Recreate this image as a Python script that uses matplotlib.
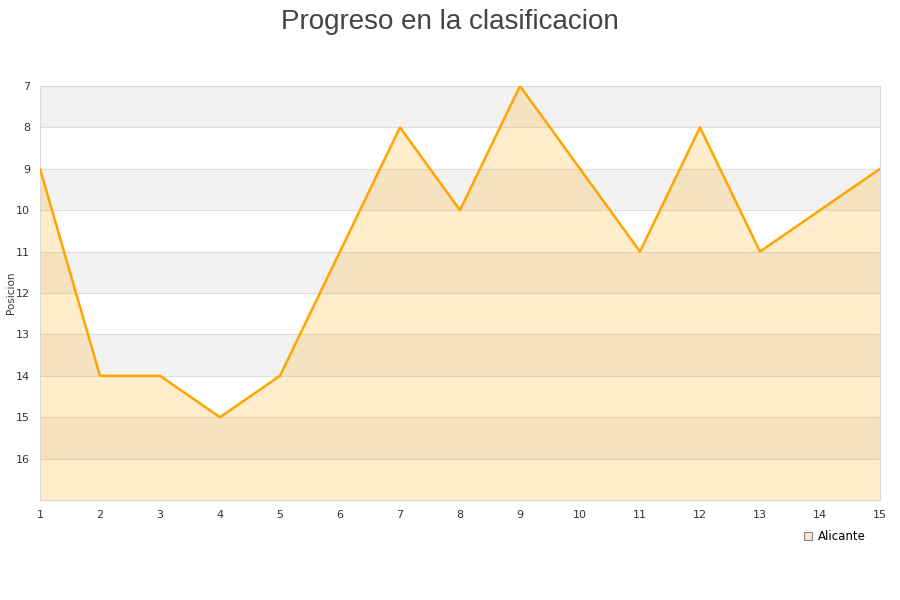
import matplotlib
matplotlib.use("Agg")
import matplotlib.pyplot as plt

jornadas = list(range(1, 16))
posicion = [9, 14, 14, 15, 14, 11, 8, 10, 7, 9, 11, 8, 11, 10, 9]
equipo = "Alicante"

fig = plt.figure(figsize=(9, 6), dpi=100)
ax = fig.add_axes([40/900, 1-500/600, 840/900, 414/600])

# alternating bands
for y in range(7, 17):
    if (y - 7) % 2 == 0:
        ax.axhspan(y, y + 1, color="#f2f2f2", zorder=0, lw=0)
for y in range(8, 17):
    ax.axhline(y, color="#dddddd", lw=0.8, zorder=1)

ax.fill_between(jornadas, posicion, 17, color="orange", alpha=0.2, lw=0, zorder=2)
ax.plot(jornadas, posicion, color="#ffa500", lw=1.8, zorder=3)
ax.plot([], [], ls="none", marker="s", ms=6, mfc="#fbe9c6", mec="#888888", mew=0.8, label=equipo)

ax.set_xlim(1, 15)
ax.set_ylim(17, 7)
ax.set_xticks(jornadas)
ax.set_yticks(range(7, 17))
ax.tick_params(length=0, labelsize=8, colors="#333333", pad=7)
for s in ax.spines.values():
    s.set_color("#d9d9d9")
fig.text(11/900, 1-293/600, "Posicion", rotation=90, fontsize=7.5, color="#333333",
         ha="center", va="center")

fig.suptitle("Progreso en la clasificacion", fontsize=20, color="#444444", y=0.985,
             family="Liberation Sans")
fig.legend(loc="center", bbox_to_anchor=(834/900, 1-537/600), frameon=False, fontsize=8.5,
           handletextpad=0.4, handlelength=1)

fig.savefig("out.png", dpi=100)
